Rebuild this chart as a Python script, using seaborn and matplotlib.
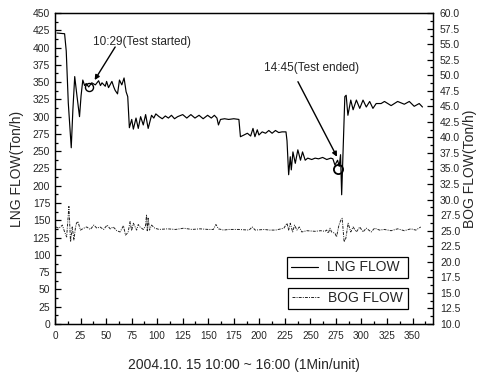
import numpy as np
import pandas as pd
import matplotlib
matplotlib.use("Agg")
import matplotlib.pyplot as plt
from matplotlib.ticker import MultipleLocator, FormatStrFormatter
from matplotlib.lines import Line2D
import seaborn as sns

# ---------------- data ----------------
lng_time = [2, 9.4, 11, 13, 15.9, 17.5, 19.3, 21.5, 24, 25.5, 27.2, 29, 30.5, 33,
            36, 39.5, 42.7, 44.5, 46, 49.2, 50.5, 52.4, 55.7, 57.5, 58.9, 61.2, 63.1, 65.4,
            67.6, 69.6, 71.2, 72.8,
            75.1, 76.7, 79.3, 81.5, 83.8, 86.4, 88.7, 91.2, 94.5, 96.7, 98.7, 101.9,
            105, 108, 111, 114, 117, 120, 125, 129, 133, 137, 141, 145, 149.4, 153, 156,
            158.5, 160, 162, 166, 170, 175, 180, 181.5,
            185, 188.3, 191.5, 193.8, 195.7, 198, 199.6, 202.8, 206.1, 209.3, 212.5, 215.8,
            219, 222.2, 226.1, 227.1, 228.7,
            230.3, 231.3, 232.9, 235.2, 237.7, 240.3, 242.3, 244.9, 247.4, 251.3, 254.6,
            258, 262, 266, 270, 272, 274, 276.6, 278.2, 279.5, 280.6,
            283.7, 285, 286.7, 289.5, 291.8, 295, 298.3, 301.5, 304.7, 308, 311.2, 314.4,
            319.2, 322.5, 329, 335.4, 341.9, 346.8, 351.6, 356.5, 359.7]
lng_flow = [421, 420, 395, 320, 255, 310, 358, 330, 300, 330, 353, 345, 348, 343,
            349, 346, 352, 345, 349, 344, 351, 342, 351, 343, 338, 333, 353, 346,
            356, 336, 329, 284,
            296, 282, 298, 283, 300, 288, 303, 283, 302, 298, 304, 300,
            297, 301, 298, 302, 297, 300, 303, 298, 303, 298, 302, 297, 302, 298, 302,
            298, 288, 296, 297, 296, 297, 296, 271,
            273.5, 276, 272, 283, 271, 281, 273.5, 278, 276, 280, 276, 280,
            277, 278, 278, 265, 216,
            242, 223, 249, 232.5, 252, 237, 249, 237, 240, 238, 240,
            239, 241, 238, 240, 239, 230, 237, 228, 245, 187,
            329, 331, 302, 324, 310, 324, 312, 324, 314, 322, 312, 319,
            319, 322, 316, 322, 318, 322, 315, 319, 314]

bog_time = [0.7, 3.9, 7.2, 9.4, 11.4, 13.6, 15.2, 16.9, 18.5, 20.1, 21, 22.4, 24.9,
            28.1, 31, 34.6, 38, 41, 44, 47.6, 51, 54, 57, 60.5, 63.7, 67, 69, 71.5,
            73.5, 75, 76.7, 79.9, 81.5, 83.2, 86.4, 88.5, 89.6, 90.3, 91.2, 92.5, 94.5,
            97.7, 102, 110, 118, 126, 134, 142, 150, 155, 157.5, 160, 165, 170, 180,
            190, 193, 196, 205, 210, 216, 224, 227.1, 228.7, 230.3, 232.6, 234.5, 236.8,
            239.1, 241.6, 246.5, 254.6, 260, 264.3, 265.9, 267.5, 269.2, 270.7, 274,
            275.6, 277.9, 279.8, 281.1, 283, 284.7, 286.9, 289.5, 291.8, 295, 298.3,
            301.5, 304.7, 309.5, 312.8, 317.7, 322.5, 329, 335.4, 341.9, 348.3, 353.2, 358]
bog_flow = [25.6, 25.4, 25.9, 24.8, 24.0, 28.9, 23.2, 25.6, 23.5, 25.6, 26.2, 26.5, 25.1,
            25.4, 25.6, 25.2, 25.9, 25.4, 25.6, 25.2, 25.9, 25.3, 25.6, 25.0, 24.8, 25.8, 24.3, 24.7,
            26.45, 25.0, 26.2, 25.1, 26.0, 25.6, 25.2, 25.7, 27.5, 25.0, 27.0, 25.1, 25.9,
            25.4, 25.2, 25.3, 25.2, 25.4, 25.2, 25.3, 25.2, 25.2, 26.0, 25.3, 25.1, 25.2, 25.2,
            25.1, 25.6, 25.1, 25.2, 25.1, 25.1, 25.4, 26.2, 25.1, 26.2, 24.8, 25.9, 25.1,
            25.6, 24.8, 25.0, 24.9, 25.0, 24.9, 25.1, 24.6, 25.4, 24.8, 24.6,
            24.0, 25.9, 26.7, 27.0, 23.2, 23.8, 26.2, 24.8, 25.6, 24.8, 25.6,
            24.8, 25.4, 24.8, 25.4, 25.1, 25.2, 25.0, 25.3, 25.0, 25.3, 25.1, 25.6]

event_time = [33, 277]
event_flow = [343, 225]
event_labels = ["10:29(Test started)", "14:45(Test ended)"]
event_text_pos = [(84.7, 408), (251, 370)]
event_arrow_tail = [(58.9, 400.8), (237.8, 350.6)]
event_arrow_head = [(38.8, 353), (276, 242)]

x_label = "2004.10. 15 10:00 ~ 16:00 (1Min/unit)"
y_label_left = "LNG FLOW(Ton/h)"
y_label_right = "BOG FLOW(Ton/h)"
series_names = ["LNG FLOW", "BOG FLOW"]

# ---------------- plot ----------------
sns.set_style("ticks")
plt.rcParams['font.family'] = ['Liberation Sans', 'DejaVu Sans']

fig = plt.figure(figsize=(4.83, 3.72), dpi=100)
ax = fig.add_axes([55 / 483, 1 - 324 / 372, (433 - 55) / 483, (324 - 13) / 372])
ax2 = ax.twinx()

lng_df = pd.DataFrame({"t": lng_time, "v": lng_flow})
bog_df = pd.DataFrame({"t": bog_time, "v": bog_flow})

sns.lineplot(data=lng_df, x="t", y="v", ax=ax, color="black", lw=0.85, estimator=None, sort=False)
sns.lineplot(data=bog_df, x="t", y="v", ax=ax2, color="#222222", lw=0.7,
             estimator=None, sort=False, linestyle=(0, (3, 1.2, 1, 1.2)))

# event markers
ax.plot(event_time[0], event_flow[0], marker="o", ms=5.8, mfc="none", mec="black", mew=1.0, ls="none")
ax.plot(event_time[1], event_flow[1], marker="o", ms=6.6, mfc="none", mec="black", mew=1.3, ls="none")

for lab, tp, tail, head in zip(event_labels, event_text_pos, event_arrow_tail, event_arrow_head):
    ax.text(tp[0], tp[1], lab, ha="center", va="center", fontsize=8.5)
    ax.annotate("", xy=head, xytext=tail,
                arrowprops=dict(arrowstyle="-|>", color="black", lw=1.0, mutation_scale=7,
                                shrinkA=0, shrinkB=0))

ax.set_xlim(0, 370)
ax.set_ylim(0, 450)
ax2.set_ylim(10, 60)

ax.xaxis.set_major_locator(MultipleLocator(25))
ax.xaxis.set_minor_locator(MultipleLocator(12.5))
ax.yaxis.set_major_locator(MultipleLocator(25))
ax.yaxis.set_minor_locator(MultipleLocator(12.5))
ax2.yaxis.set_major_locator(MultipleLocator(2.5))
ax2.yaxis.set_minor_locator(MultipleLocator(1.25))
ax2.yaxis.set_major_formatter(FormatStrFormatter("%.1f"))

ax.tick_params(axis="both", which="both", direction="in", top=False, right=False, width=0.9, color="black")
ax.tick_params(axis="both", which="major", length=4)
ax.tick_params(axis="both", which="minor", length=2)
ax.tick_params(axis="x", which="major", labelsize=7.2, pad=5)
ax.tick_params(axis="y", which="major", labelsize=7.5, pad=3.5)
ax2.tick_params(axis="y", which="both", direction="in", width=0.9, color="black")
ax2.tick_params(axis="y", which="major", length=4, labelsize=7.5, pad=5)
ax2.tick_params(axis="y", which="minor", length=2)

for a in (ax, ax2):
    for s in a.spines.values():
        s.set_visible(True)
        s.set_linewidth(0.9)
        s.set_color("black")

ax.set_xlabel(x_label, fontsize=10, labelpad=12)
ax.set_ylabel(y_label_left, fontsize=10, labelpad=6)
ax2.set_ylabel(y_label_right, fontsize=10, labelpad=2)

# legends (two separate boxes)
h_lng = Line2D([], [], color="black", lw=0.85)
h_bog = Line2D([], [], color="#222222", lw=0.7, linestyle=(0, (3, 1.2, 1, 1.2)))
common = dict(loc="center", mode="expand", fontsize=10, frameon=True, fancybox=False,
              framealpha=1, edgecolor="black", handlelength=2.0, handletextpad=0.6,
              borderpad=0.25, borderaxespad=0)
leg1 = ax2.legend([h_lng], [series_names[0]], bbox_to_anchor=(0.614, 0.148, 0.319, 0.068), **common)
leg1.get_frame().set_linewidth(0.9)
ax2.add_artist(leg1)
leg2 = ax2.legend([h_bog], [series_names[1]], bbox_to_anchor=(0.617, 0.047, 0.316, 0.073), **common)
leg2.get_frame().set_linewidth(0.9)

fig.savefig("out.png", dpi=100)
